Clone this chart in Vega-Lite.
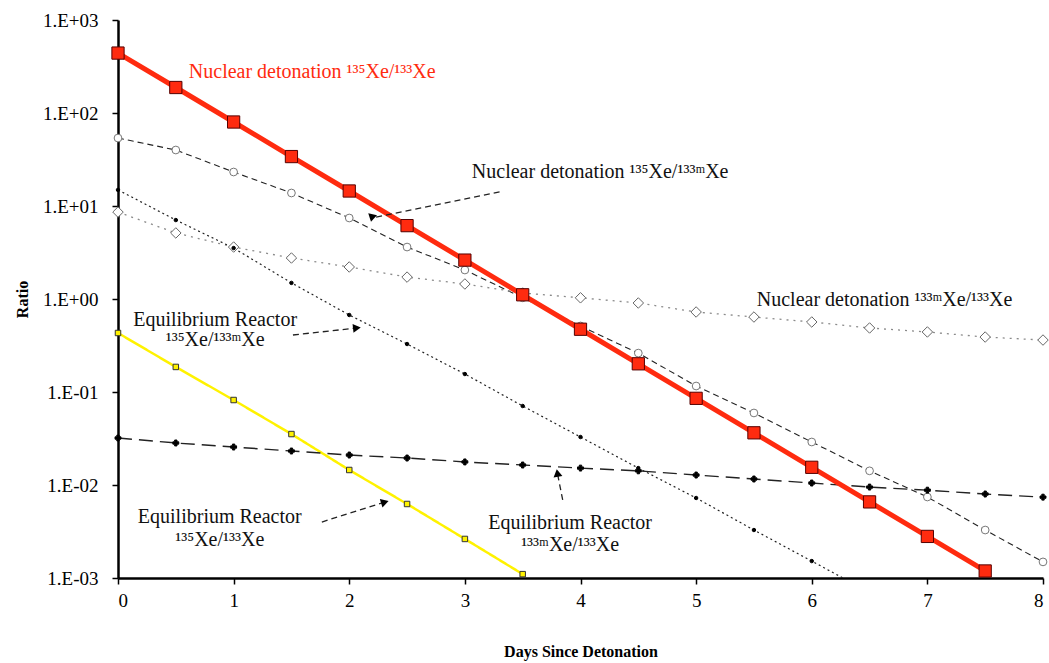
{
  "$schema": "https://vega.github.io/schema/vega-lite/v6.json",
  "width": 925,
  "height": 558,
  "autosize": "none",
  "padding": {"left": 118, "top": 20, "right": 6, "bottom": 85},
  "background": "white",
  "config": {
    "font": "Liberation Serif",
    "view": {"stroke": null},
    "axis": {
      "labelFont": "Liberation Serif", "labelFontSize": 19, "labelColor": "black",
      "titleFont": "Liberation Serif", "titleFontSize": 16, "titleFontWeight": "bold", "titleColor": "black",
      "domainColor": "black", "domainWidth": 2.5, "tickColor": "black", "tickWidth": 1.5, "tickSize": 6, "grid": false
    }
  },
  "datasets": {
    "series": [
      {"series": "det135_133", "day": 0, "ratio": 441},
      {"series": "det135_133", "day": 0.5, "ratio": 188},
      {"series": "det135_133", "day": 1, "ratio": 80},
      {"series": "det135_133", "day": 1.5, "ratio": 34},
      {"series": "det135_133", "day": 2, "ratio": 14.5},
      {"series": "det135_133", "day": 2.5, "ratio": 6.15},
      {"series": "det135_133", "day": 3, "ratio": 2.62},
      {"series": "det135_133", "day": 3.5, "ratio": 1.11},
      {"series": "det135_133", "day": 4, "ratio": 0.473},
      {"series": "det135_133", "day": 4.5, "ratio": 0.201},
      {"series": "det135_133", "day": 5, "ratio": 0.0855},
      {"series": "det135_133", "day": 5.5, "ratio": 0.0364},
      {"series": "det135_133", "day": 6, "ratio": 0.0155},
      {"series": "det135_133", "day": 6.5, "ratio": 0.00658},
      {"series": "det135_133", "day": 7, "ratio": 0.0028},
      {"series": "det135_133", "day": 7.5, "ratio": 0.00119},

      {"series": "det135_133m", "day": 0, "ratio": 53.8},
      {"series": "det135_133m", "day": 0.5, "ratio": 40},
      {"series": "det135_133m", "day": 1, "ratio": 23.2},
      {"series": "det135_133m", "day": 1.5, "ratio": 13.8},
      {"series": "det135_133m", "day": 2, "ratio": 7.43},
      {"series": "det135_133m", "day": 2.5, "ratio": 3.62},
      {"series": "det135_133m", "day": 3, "ratio": 2.05},
      {"series": "det135_133m", "day": 3.5, "ratio": 1.03},
      {"series": "det135_133m", "day": 4, "ratio": 0.513},
      {"series": "det135_133m", "day": 4.5, "ratio": 0.262},
      {"series": "det135_133m", "day": 5, "ratio": 0.116},
      {"series": "det135_133m", "day": 5.5, "ratio": 0.0595},
      {"series": "det135_133m", "day": 6, "ratio": 0.029},
      {"series": "det135_133m", "day": 6.5, "ratio": 0.0142},
      {"series": "det135_133m", "day": 7, "ratio": 0.00743},
      {"series": "det135_133m", "day": 7.5, "ratio": 0.00328},
      {"series": "det135_133m", "day": 8, "ratio": 0.00149},

      {"series": "det133m_133", "day": 0, "ratio": 8.6},
      {"series": "det133m_133", "day": 0.5, "ratio": 5.13},
      {"series": "det133m_133", "day": 1, "ratio": 3.62},
      {"series": "det133m_133", "day": 1.5, "ratio": 2.76},
      {"series": "det133m_133", "day": 2, "ratio": 2.21},
      {"series": "det133m_133", "day": 2.5, "ratio": 1.72},
      {"series": "det133m_133", "day": 3, "ratio": 1.45},
      {"series": "det133m_133", "day": 3.5, "ratio": 1.16},
      {"series": "det133m_133", "day": 4, "ratio": 1.03},
      {"series": "det133m_133", "day": 4.5, "ratio": 0.906},
      {"series": "det133m_133", "day": 5, "ratio": 0.725},
      {"series": "det133m_133", "day": 5.5, "ratio": 0.64},
      {"series": "det133m_133", "day": 6, "ratio": 0.566},
      {"series": "det133m_133", "day": 6.5, "ratio": 0.488},
      {"series": "det133m_133", "day": 7, "ratio": 0.442},
      {"series": "det133m_133", "day": 7.5, "ratio": 0.39},
      {"series": "det133m_133", "day": 8, "ratio": 0.362},

      {"series": "eq135_133m", "day": 0, "ratio": 14.9},
      {"series": "eq135_133m", "day": 0.5, "ratio": 7.06},
      {"series": "eq135_133m", "day": 1, "ratio": 3.53},
      {"series": "eq135_133m", "day": 1.5, "ratio": 1.49},
      {"series": "eq135_133m", "day": 2, "ratio": 0.673},
      {"series": "eq135_133m", "day": 2.5, "ratio": 0.328},
      {"series": "eq135_133m", "day": 3, "ratio": 0.156},
      {"series": "eq135_133m", "day": 3.5, "ratio": 0.0707},
      {"series": "eq135_133m", "day": 4, "ratio": 0.0328},
      {"series": "eq135_133m", "day": 4.5, "ratio": 0.0152},
      {"series": "eq135_133m", "day": 5, "ratio": 0.00725},
      {"series": "eq135_133m", "day": 5.5, "ratio": 0.00328},
      {"series": "eq135_133m", "day": 6, "ratio": 0.00152},
      {"series": "eq135_133m", "day": 6.5, "ratio": 0.0007},

      {"series": "eq135_133", "day": 0, "ratio": 0.431},
      {"series": "eq135_133", "day": 0.5, "ratio": 0.186},
      {"series": "eq135_133", "day": 1, "ratio": 0.082},
      {"series": "eq135_133", "day": 1.5, "ratio": 0.0353},
      {"series": "eq135_133", "day": 2, "ratio": 0.0145},
      {"series": "eq135_133", "day": 2.5, "ratio": 0.00625},
      {"series": "eq135_133", "day": 3, "ratio": 0.00263},
      {"series": "eq135_133", "day": 3.5, "ratio": 0.0011},

      {"series": "eq133m_133", "day": 0, "ratio": 0.032},
      {"series": "eq133m_133", "day": 0.5, "ratio": 0.0283},
      {"series": "eq133m_133", "day": 1, "ratio": 0.0256},
      {"series": "eq133m_133", "day": 1.5, "ratio": 0.0232},
      {"series": "eq133m_133", "day": 2, "ratio": 0.021},
      {"series": "eq133m_133", "day": 2.5, "ratio": 0.0195},
      {"series": "eq133m_133", "day": 3, "ratio": 0.0177},
      {"series": "eq133m_133", "day": 3.5, "ratio": 0.0164},
      {"series": "eq133m_133", "day": 4, "ratio": 0.0152},
      {"series": "eq133m_133", "day": 4.5, "ratio": 0.0142},
      {"series": "eq133m_133", "day": 5, "ratio": 0.0128},
      {"series": "eq133m_133", "day": 5.5, "ratio": 0.0116},
      {"series": "eq133m_133", "day": 6, "ratio": 0.0105},
      {"series": "eq133m_133", "day": 6.5, "ratio": 0.0095},
      {"series": "eq133m_133", "day": 7, "ratio": 0.0088},
      {"series": "eq133m_133", "day": 7.5, "ratio": 0.008},
      {"series": "eq133m_133", "day": 8, "ratio": 0.0074}
    ],
    "labels": [
      {"kind": "red", "day": 1.68, "ratio": 275, "text": "Nuclear detonation ¹³⁵Xe/¹³³Xe"},
      {"kind": "black", "day": 4.17, "ratio": 23.2, "text": "Nuclear detonation ¹³⁵Xe/¹³³ᵐXe"},
      {"kind": "black", "day": 6.63, "ratio": 0.975, "text": "Nuclear detonation  ¹³³ᵐXe/¹³³Xe"},
      {"kind": "black", "day": 0.84, "ratio": 0.594, "text": "Equilibrium Reactor"},
      {"kind": "black", "day": 0.84, "ratio": 0.362, "text": "¹³⁵Xe/¹³³ᵐXe"},
      {"kind": "black", "day": 0.88, "ratio": 0.00453, "text": "Equilibrium Reactor"},
      {"kind": "black", "day": 0.88, "ratio": 0.00256, "text": "¹³⁵Xe/¹³³Xe"},
      {"kind": "black", "day": 3.91, "ratio": 0.0039, "text": "Equilibrium Reactor"},
      {"kind": "black", "day": 3.91, "ratio": 0.00226, "text": "¹³³ᵐXe/¹³³Xe"}
    ],
    "arrows": [
      {"day": 3.30, "ratio": 14.2, "day2": 2.195, "ratio2": 7.43, "angle": 192},
      {"day": 1.513, "ratio": 0.41, "day2": 2.066, "ratio2": 0.488, "angle": 84},
      {"day": 1.763, "ratio": 0.0040, "day2": 2.308, "ratio2": 0.00656, "angle": 73},
      {"day": 3.846, "ratio": 0.0069, "day2": 3.80, "ratio2": 0.01346, "angle": 351}
    ]
  },
  "layer": [
    {
      "mark": {"type": "rule", "color": "#dddddd", "strokeWidth": 2},
      "encoding": {"y": {"datum": 1000, "type": "quantitative", "scale": {"type": "log", "domain": [0.001, 1000], "nice": false}}}
    },
    {
      "data": {"name": "series"},
      "transform": [{"filter": "datum.series != 'det135_133'"}],
      "mark": {"type": "line", "clip": true},
      "encoding": {
        "x": {"field": "day", "type": "quantitative", "scale": {"domain": [0, 8], "nice": false},
              "axis": {"title": "Days Since Detonation", "values": [0,1,2,3,4,5,6,7,8], "format": "d", "labelPadding": 7, "titlePadding": 33}},
        "y": {"field": "ratio", "type": "quantitative", "scale": {"type": "log", "domain": [0.001, 1000], "nice": false},
              "axis": {"title": "Ratio", "values": [0.001, 0.01, 0.1, 1, 10, 100, 1000], "labelPadding": 14, "titlePadding": 12,
                       "labelExpr": "'1.E' + (datum.value >= 1 ? '+' : '-') + '0' + abs(round(log(datum.value)/LN10))"}},
        "detail": {"field": "series"},
        "color": {"field": "series", "type": "nominal", "legend": null,
                  "scale": {"domain": ["det135_133","det135_133m","det133m_133","eq135_133m","eq135_133","eq133m_133"],
                            "range": ["#ff2b0f","#222222","#8a8a8a","#222222","#fff200","#222222"]}},
        "strokeDash": {"field": "series", "type": "nominal", "legend": null,
                  "scale": {"domain": ["det135_133","det135_133m","det133m_133","eq135_133m","eq135_133","eq133m_133"],
                            "range": [[1,0],[6,4],[2,5],[2,3],[1,0],[14,7]]}},
        "strokeWidth": {"field": "series", "type": "nominal", "legend": null,
                  "scale": {"type": "ordinal", "domain": ["det135_133","det135_133m","det133m_133","eq135_133m","eq135_133","eq133m_133"],
                            "range": [5,1.1,1.3,1.2,2.5,1.4]}}
      }
    },
    {
      "data": {"name": "series"},
      "transform": [{"filter": "datum.series != 'det135_133' && datum.ratio >= 0.001"}],
      "mark": {"type": "point", "filled": true, "strokeWidth": 1, "opacity": 1},
      "encoding": {
        "x": {"field": "day", "type": "quantitative"},
        "y": {"field": "ratio", "type": "quantitative"},
        "shape": {"field": "series", "type": "nominal", "legend": null,
                  "scale": {"domain": ["det135_133","det135_133m","det133m_133","eq135_133m","eq135_133","eq133m_133"],
                            "range": ["square","circle","diamond","circle","square","cross"]}},
        "size": {"field": "series", "type": "nominal", "legend": null,
                  "scale": {"type": "ordinal", "domain": ["det135_133","det135_133m","det133m_133","eq135_133m","eq135_133","eq133m_133"],
                            "range": [150,60,110,12,30,35]}},
        "fill": {"field": "series", "type": "nominal", "legend": null,
                  "scale": {"domain": ["det135_133","det135_133m","det133m_133","eq135_133m","eq135_133","eq133m_133"],
                            "range": ["#ff2b0f","white","white","black","#fff200","black"]}},
        "stroke": {"field": "series", "type": "nominal", "legend": null,
                  "scale": {"domain": ["det135_133","det135_133m","det133m_133","eq135_133m","eq135_133","eq133m_133"],
                            "range": ["#550000","#777777","#666666","black","#333333","black"]}}
      }
    },
    {
      "data": {"name": "series"},
      "transform": [{"filter": "datum.series == 'det135_133'"}],
      "mark": {"type": "line", "color": "#ff2b0f", "strokeWidth": 5},
      "encoding": {
        "x": {"field": "day", "type": "quantitative"},
        "y": {"field": "ratio", "type": "quantitative"}
      }
    },
    {
      "data": {"name": "series"},
      "transform": [{"filter": "datum.series == 'det135_133'"}],
      "mark": {"type": "point", "shape": "square", "filled": true, "fill": "#ff2b0f", "stroke": "#550000", "strokeWidth": 1, "size": 150, "opacity": 1},
      "encoding": {
        "x": {"field": "day", "type": "quantitative"},
        "y": {"field": "ratio", "type": "quantitative"}
      }
    },
    {
      "data": {"name": "arrows"},
      "mark": {"type": "rule", "color": "#222222", "strokeWidth": 1.3, "strokeDash": [6, 4]},
      "encoding": {
        "x": {"field": "day", "type": "quantitative"},
        "y": {"field": "ratio", "type": "quantitative"},
        "x2": {"field": "day2"},
        "y2": {"field": "ratio2"}
      }
    },
    {
      "data": {"name": "arrows"},
      "mark": {"type": "point", "shape": "triangle-up", "filled": true, "color": "black", "size": 80, "opacity": 1},
      "encoding": {
        "x": {"field": "day2", "type": "quantitative"},
        "y": {"field": "ratio2", "type": "quantitative"},
        "angle": {"field": "angle", "type": "quantitative", "scale": null}
      }
    },
    {
      "data": {"name": "labels"},
      "mark": {"type": "text", "font": "Liberation Serif", "fontSize": 20, "align": "center", "baseline": "middle"},
      "encoding": {
        "x": {"field": "day", "type": "quantitative"},
        "y": {"field": "ratio", "type": "quantitative"},
        "text": {"field": "text"},
        "color": {"field": "kind", "type": "nominal", "legend": null, "scale": {"domain": ["red", "black"], "range": ["#ff2b0f", "#111111"]}}
      }
    }
  ],
  "resolve": {"scale": {"color": "independent"}}
}
